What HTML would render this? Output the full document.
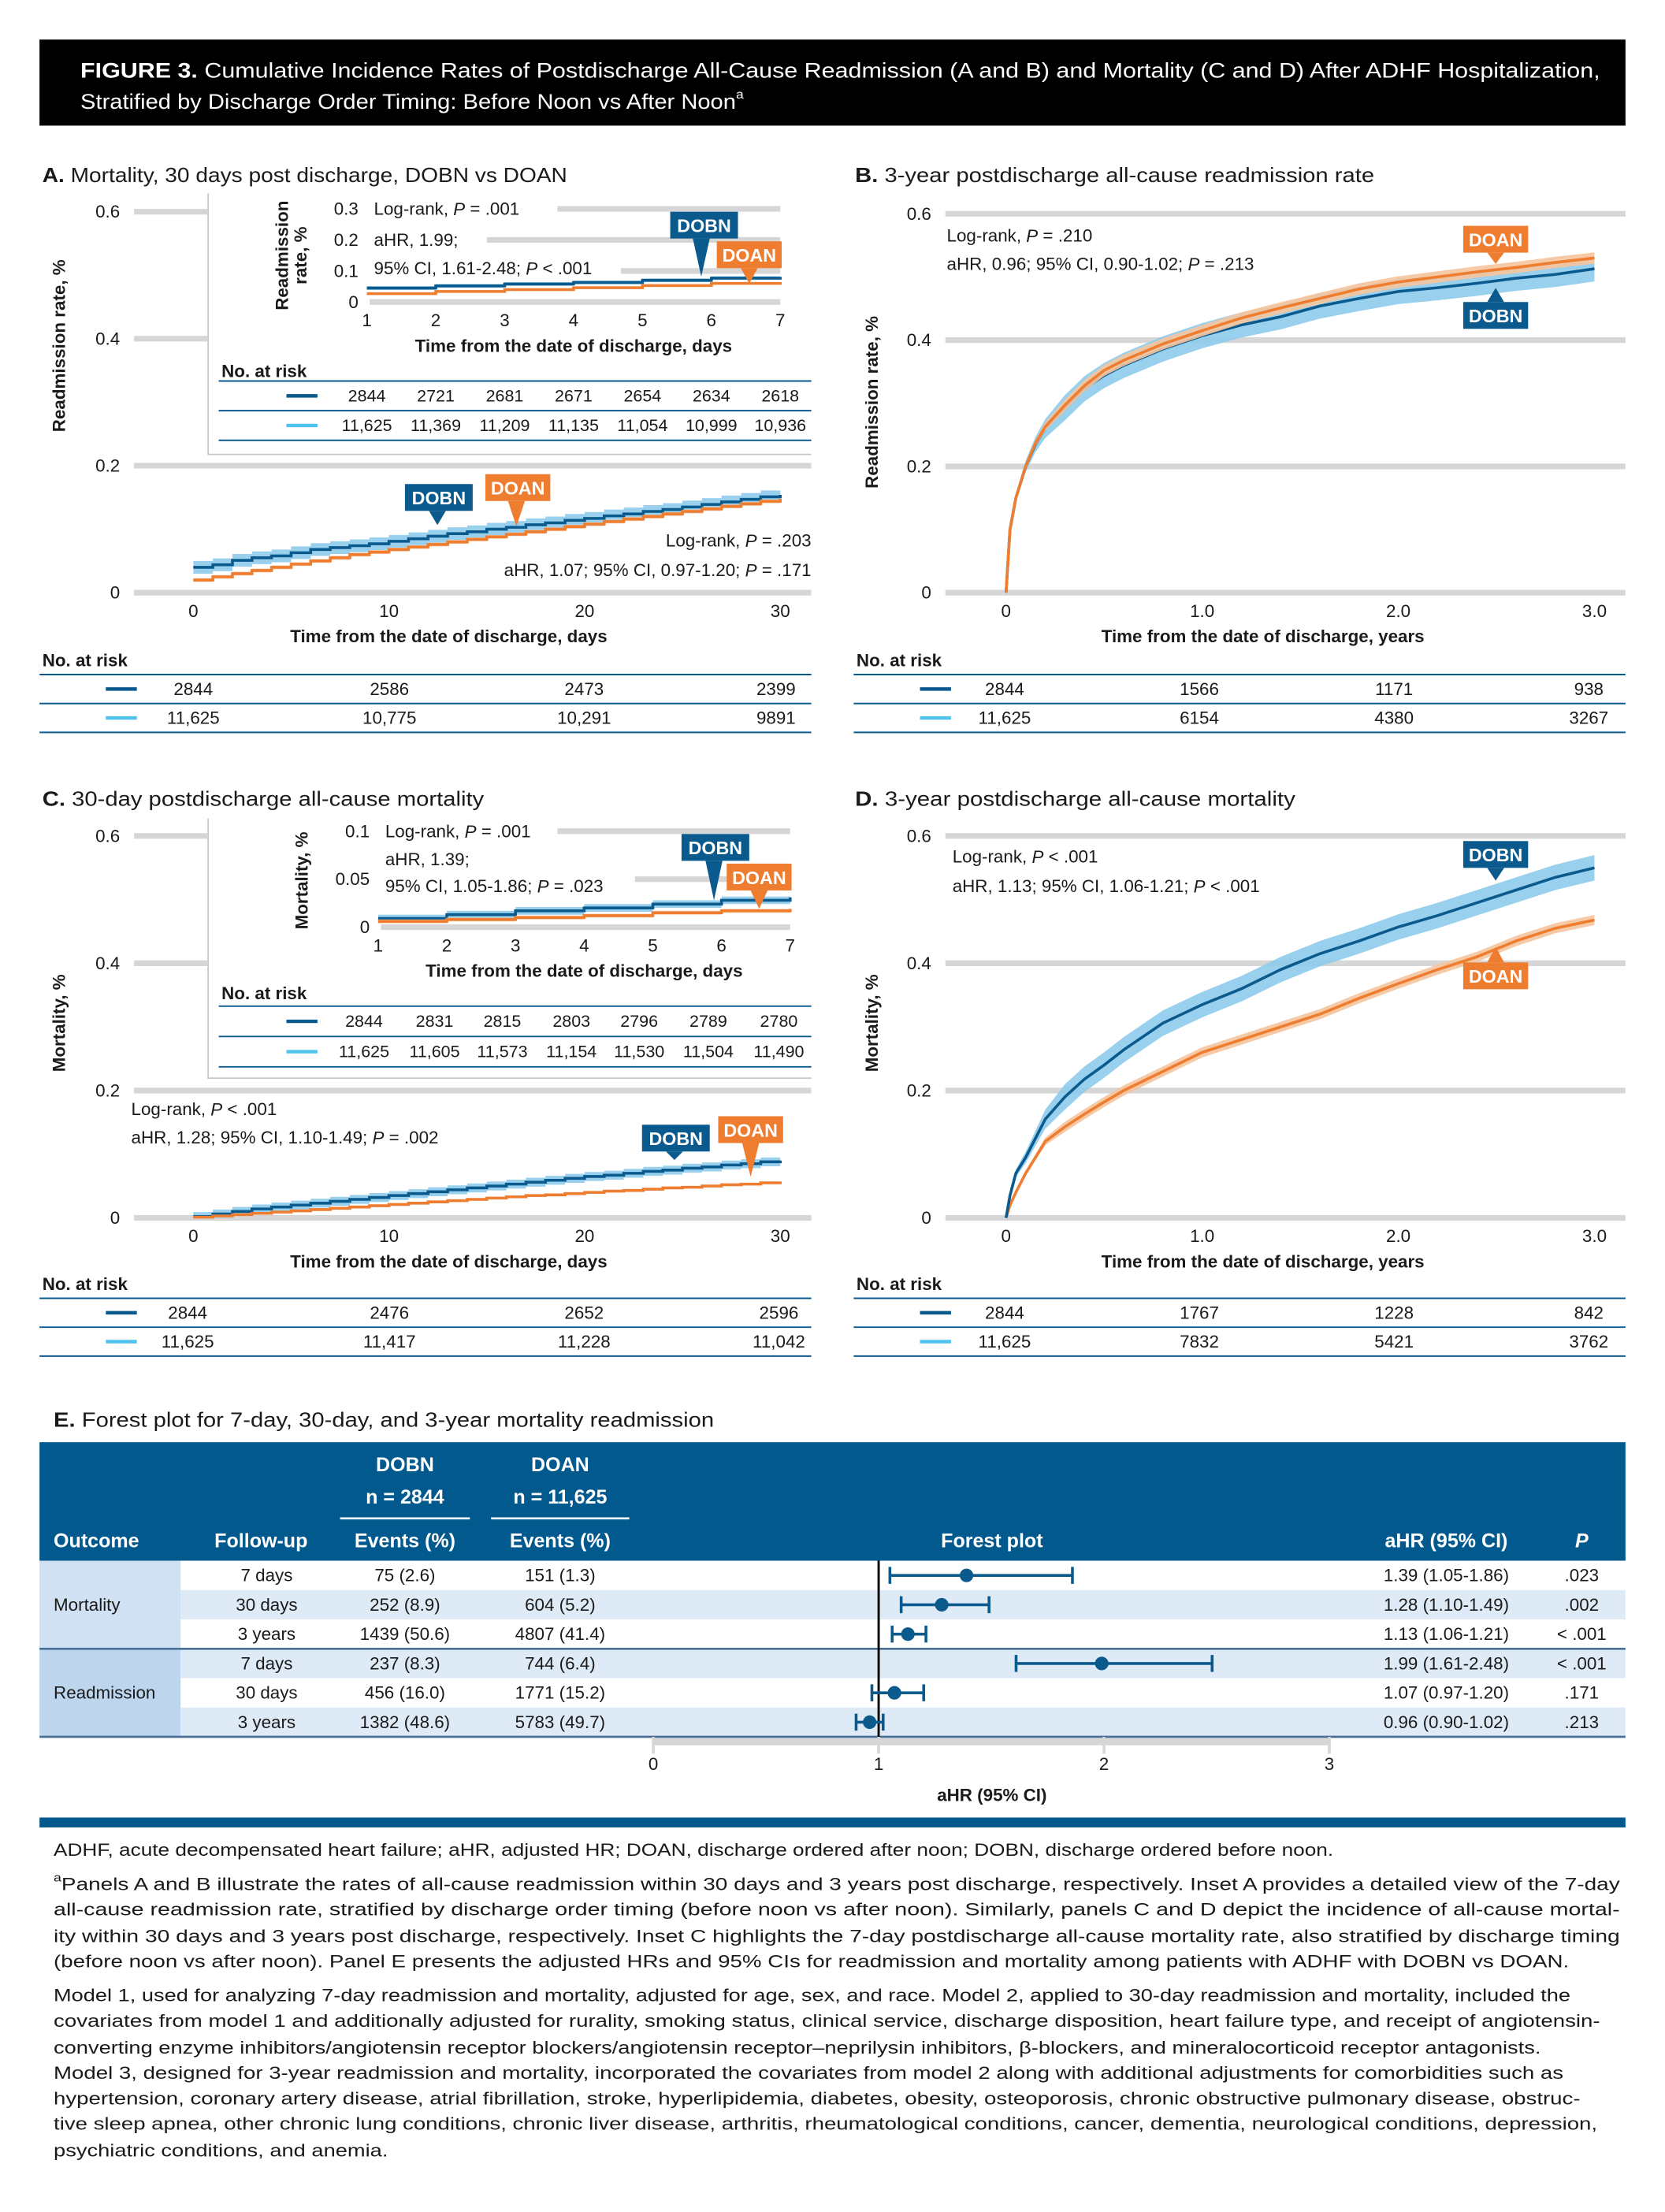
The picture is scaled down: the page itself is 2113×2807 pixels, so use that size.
<!DOCTYPE html>
<html><head><meta charset="utf-8"><style>
html,body{margin:0;padding:0;background:#fff;}
svg{display:block;}
text{font-family:"Liberation Sans",sans-serif;fill:#1a1a1a;dominant-baseline:central;}
.t{font-size:14.5px;}
.tk{font-size:12.5px;}
.ax{font-size:12.5px;font-weight:bold;}
.rk{font-size:12.5px;}
.fn{font-size:12.6px;}
.wt{fill:#fff;}
</style></head><body>
<svg id="fig" xmlns="http://www.w3.org/2000/svg" width="2113" height="2807" viewBox="0 0 1180 1567.5">
<rect x="28" y="28" width="1124" height="61" fill="#000"/>
<text class="wt" x="57" y="50" font-size="15" textLength="1077" lengthAdjust="spacingAndGlyphs"><tspan font-weight="bold">FIGURE 3.</tspan> Cumulative Incidence Rates of Postdischarge All-Cause Readmission (A and B) and Mortality (C and D) After ADHF Hospitalization,</text>
<text class="wt" x="57" y="72" font-size="15" textLength="470" lengthAdjust="spacingAndGlyphs">Stratified by Discharge Order Timing: Before Noon vs After Noon<tspan font-size="9" dy="-5">a</tspan></text>

<text class="t" x="30" y="124" textLength="372" lengthAdjust="spacingAndGlyphs"><tspan font-weight="bold">A.</tspan> Mortality, 30 days post discharge, DOBN vs DOAN</text>
<text class="t" x="606" y="124" textLength="368" lengthAdjust="spacingAndGlyphs"><tspan font-weight="bold">B.</tspan> 3-year postdischarge all-cause readmission rate</text>
<text class="t" x="30" y="566" textLength="313" lengthAdjust="spacingAndGlyphs"><tspan font-weight="bold">C.</tspan> 30-day postdischarge all-cause mortality</text>
<text class="t" x="606" y="566" textLength="312" lengthAdjust="spacingAndGlyphs"><tspan font-weight="bold">D.</tspan> 3-year postdischarge all-cause mortality</text>
<text class="t" x="38" y="1006" textLength="468" lengthAdjust="spacingAndGlyphs"><tspan font-weight="bold">E.</tspan> Forest plot for 7-day, 30-day, and 3-year mortality readmission</text>

<g id="charts"></g>

<g class="fn">
<text class="fn" x="38" y="1311" textLength="907" lengthAdjust="spacingAndGlyphs">ADHF, acute decompensated heart failure; aHR, adjusted HR; DOAN, discharge ordered after noon; DOBN, discharge ordered before noon.</text>
<text class="fn" x="38" y="1335" textLength="1110" lengthAdjust="spacingAndGlyphs"><tspan font-size="8" dy="-4">a</tspan><tspan dy="4">Panels A and B illustrate the rates of all-cause readmission within 30 days and 3 years post discharge, respectively. Inset A provides a detailed view of the 7-day</tspan></text>
<text class="fn" x="38" y="1353" textLength="1110" lengthAdjust="spacingAndGlyphs">all-cause readmission rate, stratified by discharge order timing (before noon vs after noon). Similarly, panels C and D depict the incidence of all-cause mortal-</text>
<text class="fn" x="38" y="1372" textLength="1110" lengthAdjust="spacingAndGlyphs">ity within 30 days and 3 years post discharge, respectively. Inset C highlights the 7-day postdischarge all-cause mortality rate, also stratified by discharge timing</text>
<text class="fn" x="38" y="1390" textLength="1074" lengthAdjust="spacingAndGlyphs">(before noon vs after noon). Panel E presents the adjusted HRs and 95% CIs for readmission and mortality among patients with ADHF with DOBN vs DOAN.</text>
<text class="fn" x="38" y="1414" textLength="1075" lengthAdjust="spacingAndGlyphs">Model 1, used for analyzing 7-day readmission and mortality, adjusted for age, sex, and race. Model 2, applied to 30-day readmission and mortality, included the</text>
<text class="fn" x="38" y="1432" textLength="1096" lengthAdjust="spacingAndGlyphs">covariates from model 1 and additionally adjusted for rurality, smoking status, clinical service, discharge disposition, heart failure type, and receipt of angiotensin-</text>
<text class="fn" x="38" y="1451" textLength="1054" lengthAdjust="spacingAndGlyphs">converting enzyme inhibitors/angiotensin receptor blockers/angiotensin receptor–neprilysin inhibitors, β-blockers, and mineralocorticoid receptor antagonists.</text>
<text class="fn" x="38" y="1469" textLength="1070" lengthAdjust="spacingAndGlyphs">Model 3, designed for 3-year readmission and mortality, incorporated the covariates from model 2 along with additional adjustments for comorbidities such as</text>
<text class="fn" x="38" y="1487" textLength="1082" lengthAdjust="spacingAndGlyphs">hypertension, coronary artery disease, atrial fibrillation, stroke, hyperlipidemia, diabetes, obesity, osteoporosis, chronic obstructive pulmonary disease, obstruc-</text>
<text class="fn" x="38" y="1505" textLength="1094" lengthAdjust="spacingAndGlyphs">tive sleep apnea, other chronic lung conditions, chronic liver disease, arthritis, rheumatological conditions, cancer, dementia, neurological conditions, depression,</text>
<text class="fn" x="38" y="1524" textLength="237" lengthAdjust="spacingAndGlyphs">psychiatric conditions, and anemia.</text>
</g>
</svg>
<script>
// ---------- DATA ----------
const daysMain = [0,1,2,3,4,5,6,7,8,9,10,11,12,13,14,15,16,17,18,19,20,21,22,23,24,25,26,27,28,29,30];
const aDobn = [0.040,0.044,0.051,0.055,0.058,0.063,0.068,0.071,0.074,0.077,0.081,0.085,0.089,0.093,0.096,0.100,0.103,0.107,0.110,0.114,0.117,0.121,0.124,0.128,0.131,0.135,0.139,0.143,0.147,0.151,0.154];
const aDoan = [0.020,0.025,0.030,0.035,0.040,0.045,0.050,0.055,0.060,0.064,0.068,0.072,0.076,0.080,0.084,0.088,0.092,0.096,0.100,0.104,0.108,0.112,0.116,0.120,0.124,0.128,0.132,0.136,0.140,0.144,0.148];
const daysInset = [1,2,3,4,5,6,7];
const aInsetDobn = [0.045,0.052,0.058,0.063,0.070,0.077,0.081];
const aInsetDoan = [0.027,0.034,0.040,0.046,0.053,0.060,0.064];
const cDobn = [0.002,0.006,0.010,0.014,0.017,0.020,0.023,0.026,0.029,0.032,0.035,0.038,0.041,0.044,0.047,0.050,0.053,0.056,0.059,0.062,0.065,0.067,0.070,0.073,0.075,0.078,0.080,0.083,0.085,0.088,0.090];
const cDoan = [0.001,0.003,0.005,0.007,0.009,0.011,0.013,0.015,0.017,0.019,0.021,0.023,0.025,0.027,0.029,0.031,0.033,0.035,0.036,0.038,0.040,0.042,0.043,0.045,0.047,0.048,0.050,0.052,0.053,0.055,0.057];
const cInsetDobn = [0.009,0.013,0.017,0.020,0.024,0.028,0.031];
const cInsetDoan = [0.006,0.008,0.010,0.012,0.015,0.017,0.019];
const years = [0,0.02,0.05,0.1,0.15,0.2,0.3,0.4,0.5,0.6,0.8,1.0,1.2,1.4,1.6,1.8,2.0,2.2,2.4,2.6,2.8,3.0];
const bDobn = [0,0.10,0.15,0.20,0.235,0.26,0.293,0.323,0.344,0.36,0.386,0.407,0.424,0.437,0.454,0.466,0.477,0.483,0.49,0.498,0.504,0.513];
const bDoan = [0,0.10,0.15,0.20,0.237,0.263,0.297,0.328,0.352,0.368,0.394,0.415,0.435,0.451,0.466,0.481,0.492,0.50,0.508,0.515,0.523,0.53];
const dDobn = [0,0.035,0.07,0.095,0.125,0.155,0.19,0.218,0.24,0.264,0.306,0.335,0.36,0.39,0.415,0.435,0.457,0.475,0.495,0.515,0.535,0.55];
const dDoan = [0,0.02,0.04,0.07,0.095,0.12,0.143,0.163,0.182,0.2,0.23,0.26,0.28,0.30,0.32,0.345,0.368,0.39,0.41,0.435,0.455,0.468];
const yTicks6 = [0,0.2,0.4,0.6];
const yTickLabels6 = ['0','0.2','0.4','0.6'];
const xTicksDays = [0,10,20,30];
const xTicksYears = [0,1,2,3];
const xTickLabelsYears = ['0','1.0','2.0','3.0'];
const riskA = [['2844','2586','2473','2399'],['11,625','10,775','10,291','9891']];
const riskB = [['2844','1566','1171','938'],['11,625','6154','4380','3267']];
const riskC = [['2844','2476','2652','2596'],['11,625','11,417','11,228','11,042']];
const riskD = [['2844','1767','1228','842'],['11,625','7832','5421','3762']];
const riskAInset = [['2844','2721','2681','2671','2654','2634','2618'],['11,625','11,369','11,209','11,135','11,054','10,999','10,936']];
const riskCInset = [['2844','2831','2815','2803','2796','2789','2780'],['11,625','11,605','11,573','11,154','11,530','11,504','11,490']];
const forestHr = [1.39,1.28,1.13,1.99,1.07,0.96];
const forestLo = [1.05,1.10,1.06,1.61,0.97,0.90];
const forestHi = [1.86,1.49,1.21,2.48,1.20,1.02];
const forestTicks = [0,1,2,3];

const NAVY='#0b5a8e', ORANGE='#ee7d30', LBLUE='#8dcbec', LORANGE='#f6c49d', GRID='#d6d6d6', SKY='#4fc3ee';
const NS='http://www.w3.org/2000/svg';
const root=document.getElementById('charts');
function mk(tag,attrs,parent){const e=document.createElementNS(NS,tag);for(const k in attrs)e.setAttribute(k,attrs[k]);(parent||root).appendChild(e);return e;}
function txt(x,y,s,cls,anchor,extra){const e=mk('text',Object.assign({x:x,y:y,class:cls,'text-anchor':anchor||'start'},extra||{}));e.textContent=s;return e;}

function stepD(xs,ys,X,Y){let d='M'+X(xs[0])+','+Y(ys[0]);for(let i=1;i<xs.length;i++){d+='H'+X(xs[i])+'V'+Y(ys[i]);}return d;}
function stepBand(xs,ys,w,X,Y){let up='M'+X(xs[0])+','+Y(ys[0]+w);for(let i=1;i<xs.length;i++)up+='H'+X(xs[i])+'V'+Y(ys[i]+w);
 let dn='';for(let i=xs.length-1;i>=0;i--){dn+='L'+X(xs[i])+','+Y(Math.max(0,ys[i]-w));if(i>0)dn+='L'+X(xs[i])+','+Y(Math.max(0,ys[i-1]-w));}return up+dn+'Z';}
function lineD(xs,ys,X,Y){return xs.map((v,i)=>(i?'L':'M')+X(v)+','+Y(ys[i])).join('');}
function bandD(xs,ys,wf,X,Y){let d=xs.map((v,i)=>(i?'L':'M')+X(v)+','+Y(ys[i]+wf(i))).join('');for(let i=xs.length-1;i>=0;i--)d+='L'+X(xs[i])+','+Y(Math.max(0,ys[i]-wf(i)));return d+'Z';}

function callout(x,y,w,h,color,label,tipX,tipY,name){
 const g=mk('g',{});
 
 
 const up=tipY<y;
 const by=up?y:y+h;
 mk('rect',{x:x,y:y,width:w,height:h,fill:color},g);
 mk('path',{d:'M'+(tipX-6)+','+by+'L'+tipX+','+tipY+'L'+(tipX+6)+','+by+'Z',fill:color},g);
 const t=mk('text',{x:x+w/2,y:y+h/2+0.5,'text-anchor':'middle','font-size':'13','font-weight':'bold',fill:'#fff',style:'fill:#fff'},g);
 t.textContent=label;
}

function riskTable(x0,x1,yLbl,yTop,rowH,legX,cols,rows,name,fs){
 const g=mk('g',{});
 
 
 const h=mk('text',{x:x0+2,y:yLbl,class:'ax'},g);h.textContent='No. at risk';
 for(let r=0;r<=2;r++){mk('line',{x1:x0,x2:x1,y1:yTop+r*rowH,y2:yTop+r*rowH,stroke:NAVY,'stroke-width':1.1},g);}
 for(let r=0;r<2;r++){
  const cy=yTop+rowH*(r+0.5);
  const lg=mk('line',{x1:legX,x2:legX+22,y1:cy,y2:cy,stroke:r?SKY:NAVY,'stroke-width':2.5},g);
  
  
  rows[r].forEach((v,i)=>{const t=mk('text',{x:cols[i],y:cy,'text-anchor':'middle',style:'font-size:'+(fs||12.5)+'px'},g);t.textContent=v;});
 }
}

function kmPanel(o){
 const g=mk('g',{});
 
 
 o.yTicks.forEach((v,i)=>{
  const yy=o.Y(v);
  const x1=(o.gridCut&&v>=o.gridCut)?147:o.gx1;
  const gl=mk('line',{x1:o.gx0,x2:x1,y1:yy,y2:yy,stroke:GRID,'stroke-width':4},g);
  
  
  const t=mk('text',{x:o.gx0-10,y:yy,class:'tk','text-anchor':'end'},g);t.textContent=o.yLabels[i];
 });
 o.xTicks.forEach((v,i)=>{const t=mk('text',{x:o.X(v),y:o.Y(0)+13,class:'tk','text-anchor':'middle'},g);t.textContent=o.xLabels[i];});
 const xt=mk('text',{x:o.xTitleX,y:o.Y(0)+31,class:'ax','text-anchor':'middle'},g);xt.textContent=o.xTitle;
 
 
 const yt=mk('text',{x:0,y:0,class:'ax','text-anchor':'middle',transform:'translate('+o.yTitleX+','+o.yTitleY+') rotate(-90)'},g);yt.textContent=o.yTitle;
 
 
 return g;
}

function series(g,xs,ys,X,Y,step,col,bcol,w,name){
 const b=mk('path',{d:step?stepBand(xs,ys,w,X,Y):bandD(xs,ys,i=>w*Math.min(1,xs[i]*3+0.15),X,Y),fill:bcol,opacity:0.9},g);
 
 
 const l=mk('path',{d:step?stepD(xs,ys,X,Y):lineD(xs,ys,X,Y),fill:'none',stroke:col,'stroke-width':2},g);
 
 
}

function inset(o){
 const g=mk('g',{});
 
 
 mk('rect',{x:147,y:o.top,width:428,height:o.bot-o.top,fill:'#fff'},g);
 mk('path',{d:'M147.5,'+o.top+'V'+o.bot+'H575',fill:'none',stroke:'#c8c8c8','stroke-width':1},g);
 o.yTicks.forEach((v,i)=>{
  const yy=o.Y(v);
  const gl=mk('line',{x1:o.cuts[i],x2:o.X(7),y1:yy,y2:yy,stroke:GRID,'stroke-width':4},g);
  
  
  const t=mk('text',{x:o.X(1)-6,y:yy,class:'tk','text-anchor':'end'},g);t.textContent=o.yLabels[i];
 });
 daysInset.forEach(d=>{const t=mk('text',{x:o.X(d),y:o.Y(0)+13,class:'tk','text-anchor':'middle'},g);t.textContent=String(d);});
 const xt=mk('text',{x:o.X(4),y:o.Y(0)+31,class:'ax','text-anchor':'middle'},g);xt.textContent='Time from the date of discharge, days';
 o.yTitle.forEach((s,i)=>{const t=mk('text',{x:0,y:0,class:'ax','text-anchor':'middle',transform:'translate('+(o.yTitleX+i*13)+','+o.yTitleY+') rotate(-90)'},g);t.textContent=s;});
 o.notes.forEach((s,i)=>{const t=mk('text',{x:o.X(1)+5,y:o.noteYs[i],class:'tk'},g);t.innerHTML=s;});
 series(g,daysInset,o.dobn,o.X,o.Y,true,NAVY,LBLUE,o.w1,'inset-dobn');
 series(g,daysInset,o.doan,o.X,o.Y,true,ORANGE,LORANGE,o.w2,'inset-doan');
 return g;
}

// ---------- PANEL A ----------
const XA=d=>137+d*(553-137)/30, YA=v=>420-v*450;
const gA=kmPanel({name:'panel-a-chart',X:XA,Y:YA,gx0:95,gx1:575,gridCut:0.3,yTicks:yTicks6,yLabels:yTickLabels6,xTicks:xTicksDays,xLabels:['0','10','20','30'],xTitle:'Time from the date of discharge, days',xTitleX:318,yTitle:'Readmission rate, %',yTitleX:42,yTitleY:245});
series(gA,daysMain,aDobn,XA,YA,true,NAVY,LBLUE,0.01,'a-dobn');
series(gA,daysMain,aDoan,XA,YA,true,ORANGE,LORANGE,0.003,'a-doan');
txt(575,383,'','tk','end').innerHTML='Log-rank, <tspan font-style="italic">P</tspan> = .203';
txt(575,404,'','tk','end').innerHTML='aHR, 1.07; 95% CI, 0.97-1.20; <tspan font-style="italic">P</tspan> = .171';
callout(287,343,48,19,NAVY,'DOBN',310,372,'a-dobn-label');
callout(344,336,46,19,ORANGE,'DOAN',366,373,'a-doan-label');
const XAi=d=>260+(d-1)*(553-260)/6, YAi=v=>214-v*220;
inset({name:'panel-a-inset',top:137,bot:322,X:XAi,Y:YAi,yTicks:[0,0.1,0.2,0.3],yLabels:['0','0.1','0.2','0.3'],cuts:[262,440,345,395],
 yTitle:['Readmission','rate, %'],yTitleX:200,yTitleY:181,
 notes:['Log-rank, <tspan font-style="italic">P</tspan> = .001','aHR, 1.99;','95% CI, 1.61-2.48; <tspan font-style="italic">P</tspan> &lt; .001'],noteYs:[148,170,190],
 dobn:aInsetDobn,doan:aInsetDoan,w1:0.006,w2:0.003});
callout(475,150,48,19,NAVY,'DOBN',497,196,'a-inset-dobn-label');
callout(508,171,46,19,ORANGE,'DOAN',531,201,'a-inset-doan-label');
riskTable(155,575,263,270,21,203,daysInset.map(XAi),riskAInset,'inset-a-risk-table',12);
riskTable(28,575,468,478,20.5,75,[137,276,414,550],riskA,'panel-a-risk-table');

// ---------- PANEL B ----------
const XB=t=>713+t*139, YB=v=>420-v*447.5;
const gB=kmPanel({name:'panel-b-chart',X:XB,Y:YB,gx0:670,gx1:1152,yTicks:yTicks6,yLabels:yTickLabels6,xTicks:xTicksYears,xLabels:xTickLabelsYears,xTitle:'Time from the date of discharge, years',xTitleX:895,yTitle:'Readmission rate, %',yTitleX:618,yTitleY:285});
series(gB,years,bDobn,XB,YB,false,NAVY,LBLUE,0.02,'b-dobn');
series(gB,years,bDoan,XB,YB,false,ORANGE,LORANGE,0.009,'b-doan');
txt(671,167,'','tk').innerHTML='Log-rank, <tspan font-style="italic">P</tspan> = .210';
txt(671,187,'','tk').innerHTML='aHR, 0.96; 95% CI, 0.90-1.02; <tspan font-style="italic">P</tspan> = .213';
callout(1037,160,46,19,ORANGE,'DOAN',1060,187,'b-doan-label');
callout(1037,214,46,19,NAVY,'DOBN',1060,204,'b-dobn-label');
riskTable(605,1152,468,478,20.5,652,[712,850,988,1126],riskB,'panel-b-risk-table');

// ---------- PANEL C ----------
const YC=v=>863-v*451;
const gC=kmPanel({name:'panel-c-chart',X:XA,Y:YC,gx0:95,gx1:575,gridCut:0.3,yTicks:yTicks6,yLabels:yTickLabels6,xTicks:xTicksDays,xLabels:['0','10','20','30'],xTitle:'Time from the date of discharge, days',xTitleX:318,yTitle:'Mortality, %',yTitleX:42,yTitleY:725});
series(gC,daysMain,cDobn,XA,YC,true,NAVY,LBLUE,0.007,'c-dobn');
series(gC,daysMain,cDoan,XA,YC,true,ORANGE,LORANGE,0.002,'c-doan');
txt(93,786,'','tk').innerHTML='Log-rank, <tspan font-style="italic">P</tspan> &lt; .001';
txt(93,806,'','tk').innerHTML='aHR, 1.28; 95% CI, 1.10-1.49; <tspan font-style="italic">P</tspan> = .002';
callout(455,797,48,19,NAVY,'DOBN',478,822,'c-dobn-label');
callout(509,791,46,19,ORANGE,'DOAN',532,834,'c-doan-label');
const XCi=d=>268+(d-1)*(560-268)/6, YCi=v=>657-v*680;
inset({name:'panel-c-inset',top:580,bot:764,X:XCi,Y:YCi,yTicks:[0,0.05,0.1],yLabels:['0','0.05','0.1'],cuts:[270,450,395],
 yTitle:['Mortality, %'],yTitleX:214,yTitleY:624,
 notes:['Log-rank, <tspan font-style="italic">P</tspan> = .001','aHR, 1.39;','95% CI, 1.05-1.86; <tspan font-style="italic">P</tspan> = .023'],noteYs:[589,609,628],
 dobn:cInsetDobn,doan:cInsetDoan,w1:0.004,w2:0.002});
callout(483,591,48,19,NAVY,'DOBN',506,638,'c-inset-dobn-label');
callout(515,612,46,19,ORANGE,'DOAN',538,644,'c-inset-doan-label');
riskTable(155,575,704,713,21.5,203,[258,308,356,405,453,502,552],riskCInset,'inset-c-risk-table',12);
riskTable(28,575,910,920,20.5,75,[133,276,414,552],riskC,'panel-c-risk-table');

// ---------- PANEL D ----------
const YD=v=>863-v*451;
const gD=kmPanel({name:'panel-d-chart',X:XB,Y:YD,gx0:670,gx1:1152,yTicks:yTicks6,yLabels:yTickLabels6,xTicks:xTicksYears,xLabels:xTickLabelsYears,xTitle:'Time from the date of discharge, years',xTitleX:895,yTitle:'Mortality, %',yTitleX:618,yTitleY:725});
series(gD,years,dDoan,XB,YD,false,ORANGE,LORANGE,0.008,'d-doan');
series(gD,years,dDobn,XB,YD,false,NAVY,LBLUE,0.02,'d-dobn');
txt(675,607,'','tk').innerHTML='Log-rank, <tspan font-style="italic">P</tspan> &lt; .001';
txt(675,628,'','tk').innerHTML='aHR, 1.13; 95% CI, 1.06-1.21; <tspan font-style="italic">P</tspan> &lt; .001';
callout(1037,596,46,19,NAVY,'DOBN',1060,624,'d-dobn-label');
callout(1037,682,46,19,ORANGE,'DOAN',1060,671,'d-doan-label');
riskTable(605,1152,910,920,20.5,652,[712,850,988,1126],riskD,'panel-d-risk-table');

// ---------- PANEL E (forest) ----------
const FX=v=>463+v*159.7;
const rowTop=1106, rowH=20.8;
const gE=mk('g',{});


const hdr=mk('rect',{x:28,y:1022,width:1124,height:84,fill:'#02598e'},gE);


function wtxt(x,y,s,anchor,bold){const t=mk('text',{x:x,y:y,'text-anchor':anchor||'start','font-size':14,'font-weight':bold?'bold':'normal',style:'fill:#fff'},gE);t.innerHTML=s;return t;}
wtxt(287,1038,'DOBN','middle',true);wtxt(287,1061,'n = 2844','middle',true);
wtxt(397,1038,'DOAN','middle',true);wtxt(397,1061,'n = 11,625','middle',true);
mk('line',{x1:241,x2:333,y1:1076,y2:1076,stroke:'#fff','stroke-width':1.5},gE);
mk('line',{x1:348,x2:446,y1:1076,y2:1076,stroke:'#fff','stroke-width':1.5},gE);
wtxt(38,1092,'Outcome','start',true);wtxt(152,1092,'Follow-up','start',true);
wtxt(287,1092,'Events (%)','middle',true);wtxt(397,1092,'Events (%)','middle',true);
wtxt(703,1092,'Forest plot','middle',true);wtxt(1025,1092,'aHR (95% CI)','middle',true);
wtxt(1121,1092,'<tspan font-style="italic">P</tspan>','middle',true);
const fu=['7 days','30 days','3 years','7 days','30 days','3 years'];
const e1=['75 (2.6)','252 (8.9)','1439 (50.6)','237 (8.3)','456 (16.0)','1382 (48.6)'];
const e2=['151 (1.3)','604 (5.2)','4807 (41.4)','744 (6.4)','1771 (15.2)','5783 (49.7)'];
const ci=['1.39 (1.05-1.86)','1.28 (1.10-1.49)','1.13 (1.06-1.21)','1.99 (1.61-2.48)','1.07 (0.97-1.20)','0.96 (0.90-1.02)'];
const pv=['.023','.002','&lt; .001','&lt; .001','.171','.213'];
for(let i=0;i<6;i++){
 const y=rowTop+i*rowH;
 const r=mk('rect',{x:128,y:y,width:1024,height:rowH,fill:i%2?'#dfeaf7':'#fff'},gE);
 
 
}
mk('rect',{x:28,y:rowTop,width:100,height:rowH*3,fill:'#cfe1f3'},gE);
mk('rect',{x:28,y:rowTop+rowH*3,width:100,height:rowH*3,fill:'#bdd6ee'},gE);
mk('line',{x1:28,x2:1152,y1:rowTop+rowH*3,y2:rowTop+rowH*3,stroke:'#4a6f96','stroke-width':1.5},gE);
mk('line',{x1:28,x2:1152,y1:rowTop+rowH*6,y2:rowTop+rowH*6,stroke:'#4a6f96','stroke-width':1.5},gE);
function dtxt(x,y,s,a){const t=mk('text',{x:x,y:y,class:'rk','text-anchor':a||'middle','font-size':13},gE);t.innerHTML=s;}
dtxt(38,rowTop+rowH*1.5,'Mortality','start');dtxt(38,rowTop+rowH*4.5,'Readmission','start');
for(let i=0;i<6;i++){const cy=rowTop+(i+0.5)*rowH;dtxt(189,cy,fu[i]);dtxt(287,cy,e1[i]);dtxt(397,cy,e2[i]);dtxt(1025,cy,ci[i]);dtxt(1121,cy,pv[i]);}
mk('rect',{x:FX(0),y:rowTop+rowH*6+1,width:FX(3)-FX(0),height:5,fill:GRID},gE);
forestTicks.forEach(v=>{mk('line',{x1:FX(v),x2:FX(v),y1:rowTop+rowH*6,y2:rowTop+rowH*6+12,stroke:GRID,'stroke-width':2},gE);dtxt(FX(v),1250,String(v));});
const at=mk('text',{x:703,y:1272,class:'ax','text-anchor':'middle'},gE);at.textContent='aHR (95% CI)';
const ref=mk('line',{x1:FX(1),x2:FX(1),y1:rowTop,y2:rowTop+rowH*6,stroke:'#000','stroke-width':1.6},gE);


forestHr.forEach((v,i)=>{
 const cy=rowTop+(i+0.5)*rowH;
 const w=mk('path',{d:'M'+FX(forestLo[i])+','+(cy-6)+'v12M'+FX(forestHi[i])+','+(cy-6)+'v12M'+FX(forestLo[i])+','+cy+'H'+FX(forestHi[i]),stroke:NAVY,'stroke-width':2,fill:'none'},gE);
 
 
 const p=mk('circle',{cx:FX(v),cy:cy,r:4.8,fill:NAVY},gE);
 
 
});
const bb=mk('rect',{x:28,y:1288,width:1124,height:7,fill:'#02598e'},gE);


</script>
</body></html>
